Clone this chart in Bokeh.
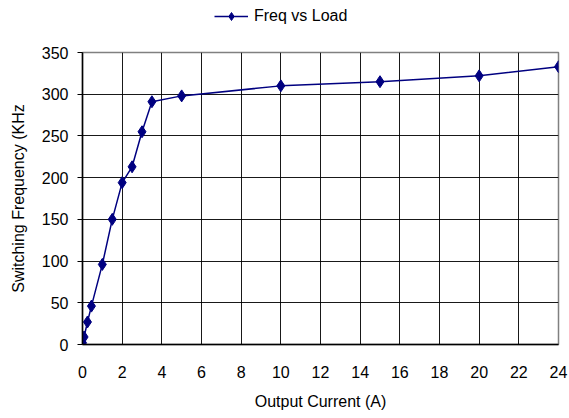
from bokeh.plotting import figure
from bokeh.layouts import column
from bokeh.models import Legend, LegendItem, FixedTicker, Range1d, ColumnDataSource
from bokeh.embed import file_html
from bokeh.resources import INLINE

current = [0, 0.08, 0.25, 0.45, 1.0, 1.5, 2.0, 2.5, 3.0, 3.5, 5, 10, 15, 20, 24]
freq = [2, 9, 27, 46, 96, 150, 194, 213, 255, 291, 298, 310, 315, 322, 333]
x_ticks = list(range(0, 25, 2))
y_ticks = list(range(0, 351, 50))
series_name = "Freq vs Load"

FONT = "Liberation Sans"
NAVY = "#000080"

src = ColumnDataSource(dict(x=current, y=freq))

p = figure(frame_width=476, frame_height=292, output_backend="svg", toolbar_location=None,
           x_range=Range1d(0, 24), y_range=Range1d(0, 350),
           min_border_left=82, min_border_right=10, min_border_top=20, min_border_bottom=60)

line = p.line("x", "y", source=src, line_color=NAVY, line_width=1.5)
pts = p.scatter("x", "y", source=src, marker="diamond", size=12, fill_color=NAVY, line_color=NAVY)

p.xaxis.ticker = FixedTicker(ticks=x_ticks)
p.yaxis.ticker = FixedTicker(ticks=y_ticks)
p.xaxis.axis_label = "Output Current (A)"
p.yaxis.axis_label = "Switching Frequency (KHz"
for ax in (p.xaxis, p.yaxis):
    ax.axis_label_text_font = FONT
    ax.axis_label_text_font_style = "normal"
    ax.axis_label_text_font_size = "16px"
    ax.major_label_text_font = FONT
    ax.major_label_text_font_size = "16px"
    ax.major_label_text_color = "black"
    ax.axis_label_text_color = "black"
    ax.minor_tick_line_color = None
    ax.axis_line_color = "black"
    ax.axis_line_width = 1.5
p.xaxis.major_tick_line_color = None
p.yaxis.major_tick_in = 0
p.yaxis.major_tick_out = 5
p.yaxis.major_tick_line_color = "black"
p.xaxis.major_label_standoff = 15
p.xaxis.axis_label_standoff = 12
p.yaxis.major_label_standoff = 9
p.yaxis.axis_label_standoff = 12

p.xgrid.grid_line_color = "black"
p.ygrid.grid_line_color = "black"
p.xgrid.grid_line_alpha = 0.9
p.ygrid.grid_line_alpha = 0.9
p.outline_line_color = "#808080"
p.outline_line_width = 1.5
p.background_fill_color = "white"
p.border_fill_color = "white"

# legend strip above the chart (series drawn off-frame, only its legend sample shows)
lg = figure(width=568, height=32, output_backend="svg", toolbar_location=None,
            min_border=0, x_axis_type=None, y_axis_type=None,
            x_range=Range1d(0, 24), y_range=Range1d(-2000, -1000))
lg.grid.visible = False
lg.outline_line_color = None
lline = lg.line("x", "y", source=src, line_color=NAVY, line_width=1.5)
lpts = lg.scatter("x", "y", source=src, marker="diamond", size=12, fill_color=NAVY, line_color=NAVY)
legend = Legend(items=[LegendItem(label=series_name, renderers=[lline, lpts])],
                location=(132, 6), orientation="horizontal",
                label_text_font=FONT, label_text_font_size="16px",
                label_text_color="black",
                border_line_color=None, background_fill_alpha=0,
                glyph_width=34, label_standoff=6, padding=0, margin=0)
lg.add_layout(legend)

layout = column(lg, p, spacing=0)
open("out.html", "w").write(file_html(layout, INLINE))
